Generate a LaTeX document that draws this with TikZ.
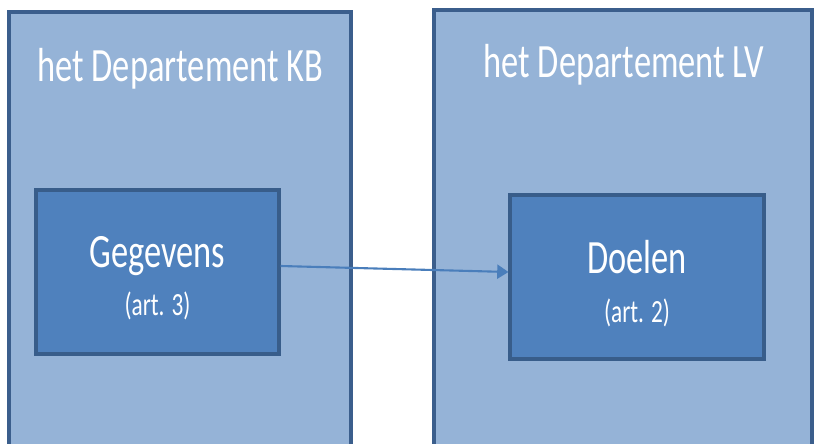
\documentclass[tikz,border=0pt]{standalone}
\usepackage{fontspec}
\setmainfont{Carlito}[FakeStretch=0.72]
\usepackage{tikz}
\usetikzlibrary{arrows.meta}

\definecolor{deptfill}{HTML}{95B3D7}
\definecolor{deptline}{HTML}{3B5E8C}
\definecolor{itemfill}{HTML}{4F81BD}
\definecolor{itemline}{HTML}{385D8A}
\definecolor{linkcol}{HTML}{4A7EBB}

\tikzset{
    dept/.style={draw=deptline, fill=deptfill, line width=2.8pt,
        inner sep=0pt},
    item/.style={draw=itemline, fill=itemfill, line width=2.2pt,
        minimum width=#1, minimum height=4.1cm, inner sep=0pt},
    title/.style={text=white, anchor=base, font=\fontsize{34}{38}\selectfont},
    subtitle/.style={text=white, anchor=base, font=\fontsize{23}{26}\selectfont}
}

\begin{document}
\begin{tikzpicture}
            \useasboundingbox (0,0) rectangle (20.35,11.075);
            \clip (0,0) rectangle (20.35,11.075);

            % departementen
            \node[dept, minimum width=8.55cm, minimum height=11.075cm]
                (kb) at (4.5,5.2375) {};
            \node[dept, minimum width=9.45cm, minimum height=11.125cm]
                (lv) at (15.575,5.2625) {};
            \node[title] (kbtitle) at (4.51,9.025) {het Departement KB};
            \node[title] (lvtitle) at (15.6,9.125) {het Departement LV};

            % artikelen
            \node[item=6.075cm] (gegevens) at (3.9375,4.275) {};
            \node[item=6.35cm] (doelen) at (15.925,4.15) {};
            \node[title] (gegtext) at (3.9375,4.4) {Gegevens};
            \node[subtitle] (gegart) at (3.9375,3.2) {(art. 3)};
            \node[title] (doeltext) at (15.925,4.25) {Doelen};
            \node[subtitle] (doelart) at (15.925,3.025) {(art. 2)};

            \draw[linkcol, line width=1.5pt, -{Triangle[length=8pt,width=10pt]}]
                ([yshift=0.15cm]gegevens.east) -- ([yshift=0.125cm]doelen.west);

        \end{tikzpicture}
\end{document}
